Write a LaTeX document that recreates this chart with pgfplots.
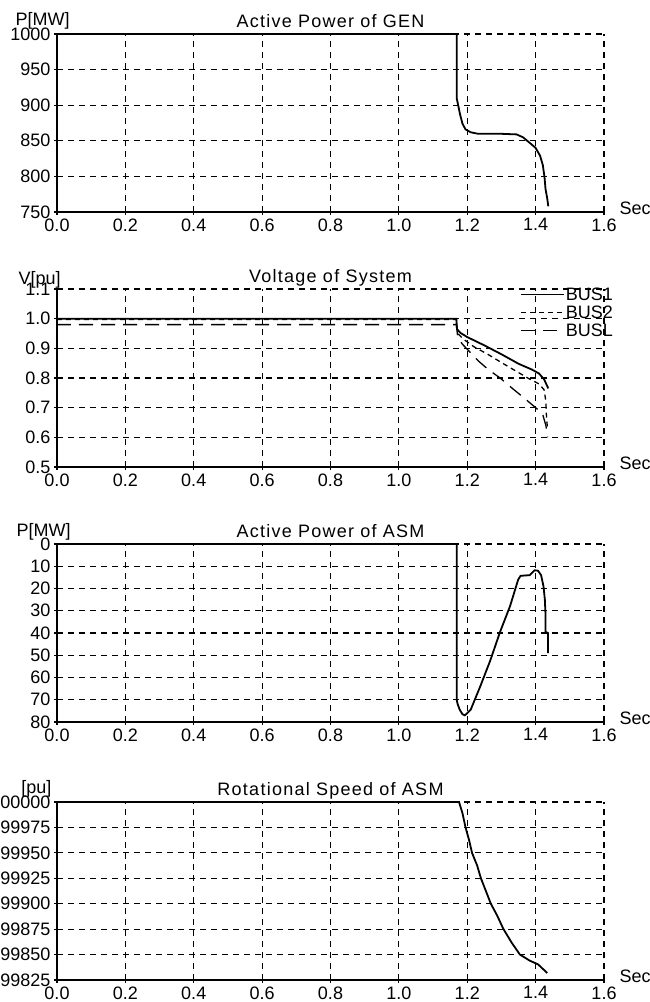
\documentclass[border=0pt]{standalone}
\usepackage{fontspec}
\setmainfont{Liberation Sans}
\newfontfamily\titlefont[LetterSpace=7]{Liberation Sans}
\usepackage{pgfplots}
\pgfplotsset{compat=1.18}

\newcommand\lab{\fontsize{18}{18}\selectfont}
\newcommand\ttl{\titlefont\fontsize{18}{18}\selectfont}

\pgfplotsset{
  panel/.style={
    scale only axis, width=547pt, height=178pt, anchor=north west,
    xmin=0, xmax=1.6,
    xtick={0,0.2,0.4,0.6,0.8,1.0,1.2,1.4,1.6},
    xticklabels={0.0,0.2,0.4,0.6,0.8,1.0,1.2,1.4,1.6},
    axis x line*=bottom, axis y line*=left,
    axis line style={line width=1.8pt, -},
    grid=major,
    grid style={line width=1.2pt, dash pattern=on 6pt off 5pt, black},
    tick align=center, major tick length=6pt,
    tick style={line width=1.2pt, black},
    tick label style={font=\lab},
    /pgf/number format/assume math mode=true,
    clip=false,
  },
  curve/.style={black, line width=1.8pt, mark=none},
}

\begin{document}
\begin{tikzpicture}
\useasboundingbox (0pt,0pt) rectangle (650pt,-1002pt);

% ---- Active power of GEN
\begin{axis}[panel, at={(57pt,-34pt)},
  ymin=750, ymax=1000,
  ytick={750,800,850,900,950,1000},
  yticklabels={750,800,850,900,950,1000}]
\addplot[curve] coordinates {
 (0,1000) (1.169,1000) (1.169,910) (1.173,901) (1.179,887) (1.186,874)
 (1.195,866) (1.21,862) (1.23,860) (1.29,860) (1.344,859) (1.363,855)
 (1.383,847) (1.40,840) (1.413,829) (1.421,816) (1.426,799) (1.429,782)
 (1.434,769) (1.437,758)
};
\node[font=\ttl, anchor=base] at (rel axis cs:0.5,1) [yshift=7pt] {Active Power of GEN};
\node[font=\lab, anchor=base west] at (rel axis cs:0,1) [xshift=-45pt, yshift=9pt] {P[MW]};
\node[font=\lab, anchor=west] at (rel axis cs:1,0) [xshift=12pt, yshift=4pt] {Sec};
\end{axis}

% ---- Voltage of system
\begin{axis}[panel, at={(57pt,-289pt)},
  ymin=0.5, ymax=1.1,
  ytick={0.5,0.6,0.7,0.8,0.9,1.0,1.1},
  yticklabels={0.5,0.6,0.7,0.8,0.9,1.0,1.1},
  legend style={at={(rel axis cs:0.846,1.015)}, anchor=north west,
    draw=none, fill=none, inner sep=0pt, font=\lab, row sep=2pt,
    nodes={inner sep=1pt}},
  legend cell align=left,
  legend image code/.code={\draw[#1] (0pt,0pt) -- (43pt,0pt);}]
\addplot[curve] coordinates {
 (0,1.0) (1.168,1.0) (1.170,0.965) (1.18,0.952) (1.2,0.938) (1.25,0.91)
 (1.3,0.88) (1.35,0.848) (1.39,0.828) (1.41,0.815) (1.425,0.795) (1.437,0.765)
};
\addplot[black, line width=1.3pt, dash pattern=on 5pt off 4pt] coordinates {
 (0,0.997) (1.168,0.997) (1.172,0.95) (1.19,0.93) (1.22,0.905) (1.26,0.88)
 (1.3,0.852) (1.34,0.825) (1.38,0.798) (1.41,0.78) (1.425,0.76) (1.43,0.72)
 (1.432,0.66) (1.435,0.63)
};
\addplot[black, line width=1.3pt, dash pattern=on 14pt off 8pt] coordinates {
 (0,0.98) (1.168,0.98) (1.172,0.94) (1.185,0.915) (1.232,0.858) (1.26,0.83)
 (1.296,0.80) (1.334,0.763) (1.369,0.73) (1.40,0.70) (1.42,0.68)
 (1.43,0.64) (1.435,0.60)
};
\legend{BUS1,BUS2,BUSL}
\node[font=\ttl, anchor=base] at (rel axis cs:0.5,1) [yshift=7pt] {Voltage of System};
\node[font=\lab, anchor=base west] at (rel axis cs:0,1) [xshift=-42pt, yshift=5pt] {V[pu]};
\node[font=\lab, anchor=west] at (rel axis cs:1,0) [xshift=12pt, yshift=4pt] {Sec};
\end{axis}

% ---- Active power of ASM (drawn downwards)
\begin{axis}[panel, at={(57pt,-544pt)},
  ymin=-80, ymax=0,
  ytick={-80,-70,-60,-50,-40,-30,-20,-10,0},
  yticklabels={80,70,60,50,40,30,20,10,0}]
\addplot[curve] coordinates {
 (0,0) (1.169,0) (1.169,-70) (1.172,-72) (1.178,-74.5) (1.186,-76.5)
 (1.193,-77) (1.20,-76) (1.21,-74.5) (1.238,-64) (1.267,-52.5) (1.296,-39.5)
 (1.325,-28) (1.349,-16) (1.356,-14.3) (1.383,-14) (1.397,-11.8) (1.407,-12)
 (1.416,-14) (1.423,-19) (1.427,-25) (1.429,-32) (1.429,-39.5) (1.436,-40)
 (1.436,-49)
};
\node[font=\ttl, anchor=base] at (rel axis cs:0.5,1) [yshift=7pt] {Active Power of ASM};
\node[font=\lab, anchor=base west] at (rel axis cs:0,1) [xshift=-44pt, yshift=8pt] {P[MW]};
\node[font=\lab, anchor=west] at (rel axis cs:1,0) [xshift=12pt, yshift=4pt] {Sec};
\end{axis}

% ---- Rotational speed of ASM
\begin{axis}[panel, at={(57pt,-802pt)},
  ymin=0.99825, ymax=1.0,
  ytick={0.99825,0.9985,0.99875,0.999,0.99925,0.9995,0.99975,1.0},
  yticklabels={0.99825,0.99850,0.99875,0.99900,0.99925,0.99950,0.99975,1.00000}]
\addplot[curve] coordinates {
 (0,1.0) (1.176,1.0) (1.186,0.99989) (1.195,0.99975) (1.205,0.99963)
 (1.214,0.99950) (1.229,0.999375) (1.240,0.99925) (1.258,0.999095)
 (1.269,0.99900) (1.287,0.998887) (1.306,0.99875) (1.330,0.998617)
 (1.354,0.998500) (1.383,0.998440) (1.407,0.998404) (1.434,0.998319)
};
\node[font=\ttl, anchor=base] at (rel axis cs:0.5,1) [yshift=7pt] {Rotational Speed of ASM};
\node[font=\lab, anchor=base east] at (rel axis cs:0,1) [xshift=-2pt, yshift=9pt] {[pu]};
\node[font=\lab, anchor=west] at (rel axis cs:1,0) [xshift=12pt, yshift=4pt] {Sec};
\end{axis}
\end{tikzpicture}
\end{document}
